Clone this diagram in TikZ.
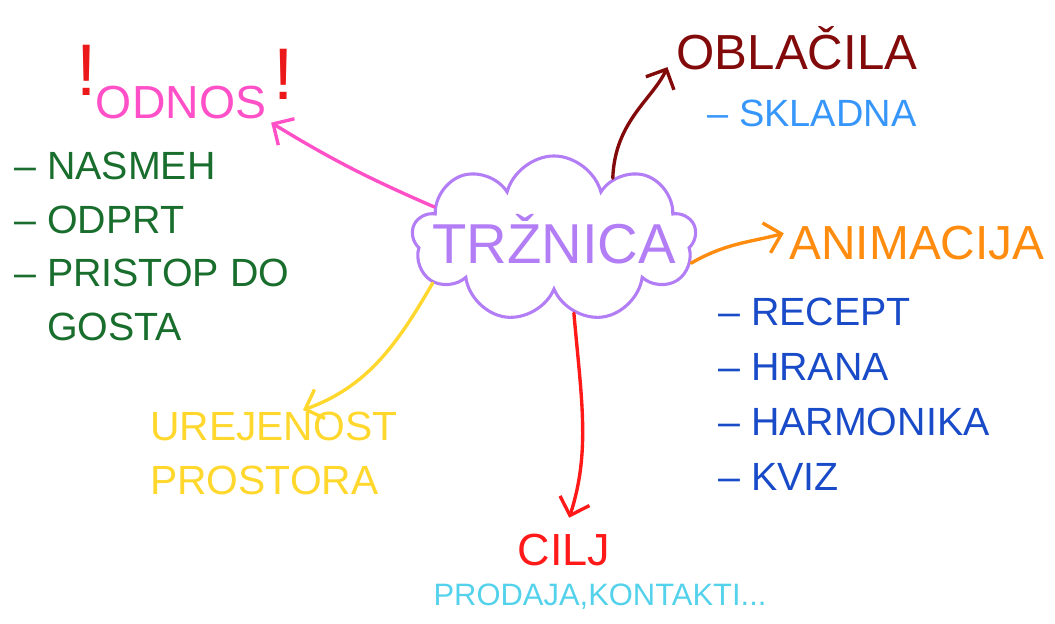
\documentclass[tikz,border=0pt]{standalone}
\usepackage{fontspec}
\setmainfont{Liberation Sans}
\usetikzlibrary{shapes.symbols,arrows.meta}
\definecolor{cloudpurple}{RGB}{178,125,245}
\definecolor{odnospink}{RGB}{255,80,200}
\definecolor{bangred}{RGB}{235,25,25}
\definecolor{listgreen}{RGB}{25,110,45}
\definecolor{clothred}{RGB}{130,10,10}
\definecolor{skyblue}{RGB}{55,150,250}
\definecolor{animorange}{RGB}{255,140,15}
\definecolor{listblue}{RGB}{25,75,200}
\definecolor{tidyyellow}{RGB}{255,215,45}
\definecolor{goalred}{RGB}{255,25,25}
\definecolor{salecyan}{RGB}{85,210,235}
\begin{document}
\begin{tikzpicture}[x=0.025cm,y=-0.025cm]

    \tikzset{
      hand/.style={
        line width=2.4pt,
        line cap=round,
        line join=round,
        -{Straight Barb[length=11pt,width=22pt]},
        shorten >=4pt,
      },
      txt/.style={
        inner sep=0pt,
        align=left,
      },
    }
    \useasboundingbox (0,0) rectangle (1055,624);
    % centre
    \node[cloud, cloud puffs=9, aspect=1.7, draw=cloudpurple, line width=2.2pt,
      inner sep=0pt, minimum width=7.1cm, minimum height=4.15cm,
      label={[text=cloudpurple, font=\fontsize{40}{40}\selectfont]center:TRŽNICA}] (trznica) at (554,239) {};
    % branches
    \node[txt, text=odnospink, font=\fontsize{33}{33}\selectfont] (odnos) at (181,103) {ODNOS};
    \node[txt, text=bangred, font=\fontsize{52}{52}\selectfont] (bangl) at (87,70) {!};
    \node[txt, text=bangred, font=\fontsize{52}{52}\selectfont] (bangr) at (284,74) {!};
    \node[txt, anchor=north west, text=listgreen, font=\fontsize{28}{38}\selectfont] (odnoslist) at (14,152)
      {– NASMEH\\– ODPRT\\– PRISTOP DO\\\phantom{– }GOSTA};
    \node[txt, text=clothred, font=\fontsize{35}{35}\selectfont] (oblacila) at (797,48) {OBLAČILA};
    \node[txt, text=skyblue, font=\fontsize{27}{27}\selectfont] (skladna) at (812,113) {– SKLADNA};
    \node[txt, text=animorange, font=\fontsize{34}{34}\selectfont] (animacija) at (917,243) {ANIMACIJA};
    \node[txt, anchor=north west, text=listblue, font=\fontsize{28}{39}\selectfont] (animlist) at (718,298)
      {– RECEPT\\– HRANA\\– HARMONIKA\\– KVIZ};
    \node[txt, anchor=north west, text=tidyyellow, font=\fontsize{29}{38}\selectfont] (urejenost) at (150,412)
      {UREJENOST\\PROSTORA};
    \node[txt, text=goalred, font=\fontsize{32}{32}\selectfont] (cilj) at (564,550) {CILJ};
    \node[txt, text=salecyan, font=\fontsize{22}{22}\selectfont] (prodaja) at (600,597) {PRODAJA,KONTAKTI...};
    % arrows
    \draw[hand, odnospink] (trznica.165) to[bend left=4] (odnos.south east);
    \draw[hand, clothred, shorten >=15pt] (trznica.46) to[out=88, in=245] (oblacila.west);
    \draw[hand, animorange] (trznica.-10) to[out=30, in=195] (animacija.175);
    \draw[hand, tidyyellow] (trznica.200) to[out=240, in=20] (urejenost.60);
    \draw[hand, goalred, shorten >=12pt] (trznica.-75) to[out=-85, in=72] (cilj.north);

\end{tikzpicture}
\end{document}
